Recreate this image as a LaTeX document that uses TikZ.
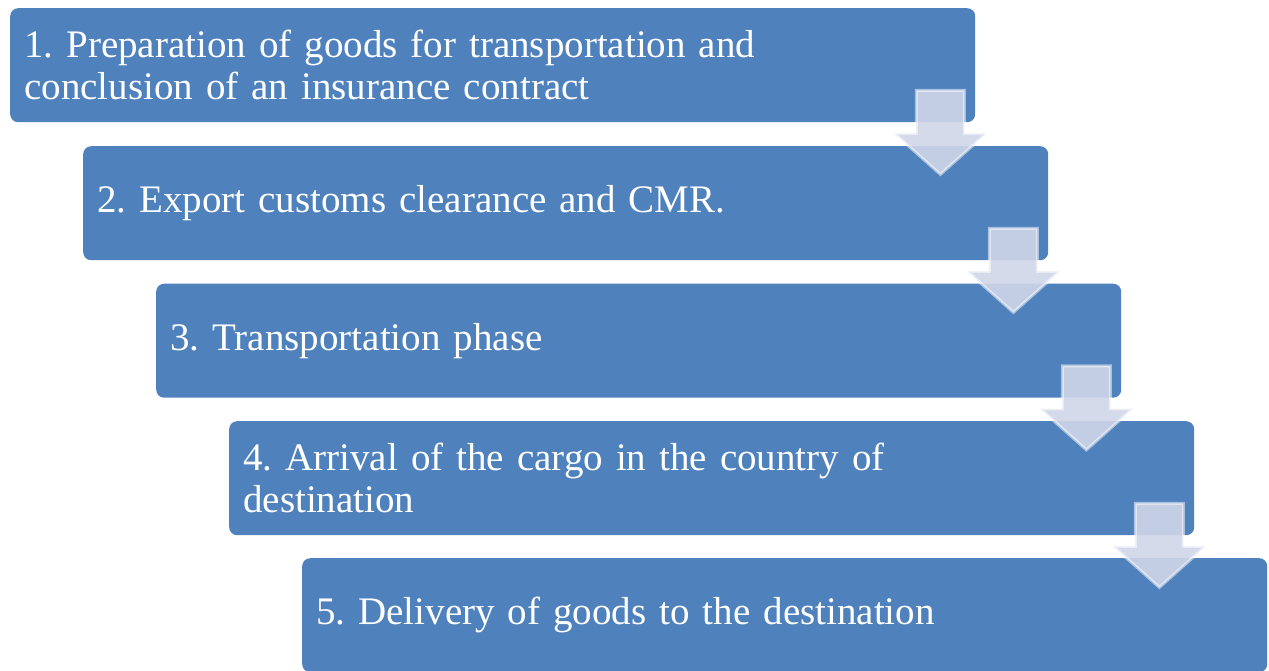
\documentclass[tikz,border=0pt]{standalone}
\usepackage{fontspec}
\setmainfont{Liberation Serif}
\usetikzlibrary{calc}
\definecolor{boxblue}{RGB}{79,129,189}
\definecolor{arrowfill}{RGB}{208,214,232}
\newcommand{\stepboxfont}{\fontsize{39}{42}\selectfont\frenchspacing\spaceskip=7.6pt plus 2pt minus 1pt\relax}
\tikzset{
  stepbox/.style={fill=boxblue, rounded corners=8pt, anchor=north west,
    minimum width=965pt, minimum height=114pt, text width=937pt,
    inner xsep=14pt, inner ysep=0pt, align=left, text=white,
    font=\stepboxfont},
  downarrow/.style={fill=arrowfill, fill opacity=0.9, draw=white, draw opacity=0.5,
    line width=3pt, line join=miter}
}
\begin{document}
\begin{tikzpicture}[x=1pt,y=-1pt]
\useasboundingbox (0,0) rectangle (1269,670);
\clip (0,0) rectangle (1269,670);
\node[stepbox] (b1) at (10,8) {1. Preparation of goods for transportation and\\conclusion of an insurance contract};
\node[stepbox] (b2) at (83,146) {2. Export customs clearance and CMR.};
\node[stepbox] (b3) at (156,283.5) {3. Transportation phase};
\node[stepbox] (b4) at (229,421) {4. Arrival of the cargo in the country of\\destination};
\node[stepbox] (b5) at (302,558) {5. Delivery of goods to the destination};
\foreach \i in {1,...,4} {
  \coordinate (a\i) at ($(b\i.south east)+(-35,-32)$);
  \draw[downarrow] (a\i) ++(-24,0) -- ++(48,0) -- ++(0,43) -- ++(22,0)
    -- ++(-46,41) -- ++(-46,-41) -- ++(22,0) -- cycle;
}
\end{tikzpicture}
\end{document}
